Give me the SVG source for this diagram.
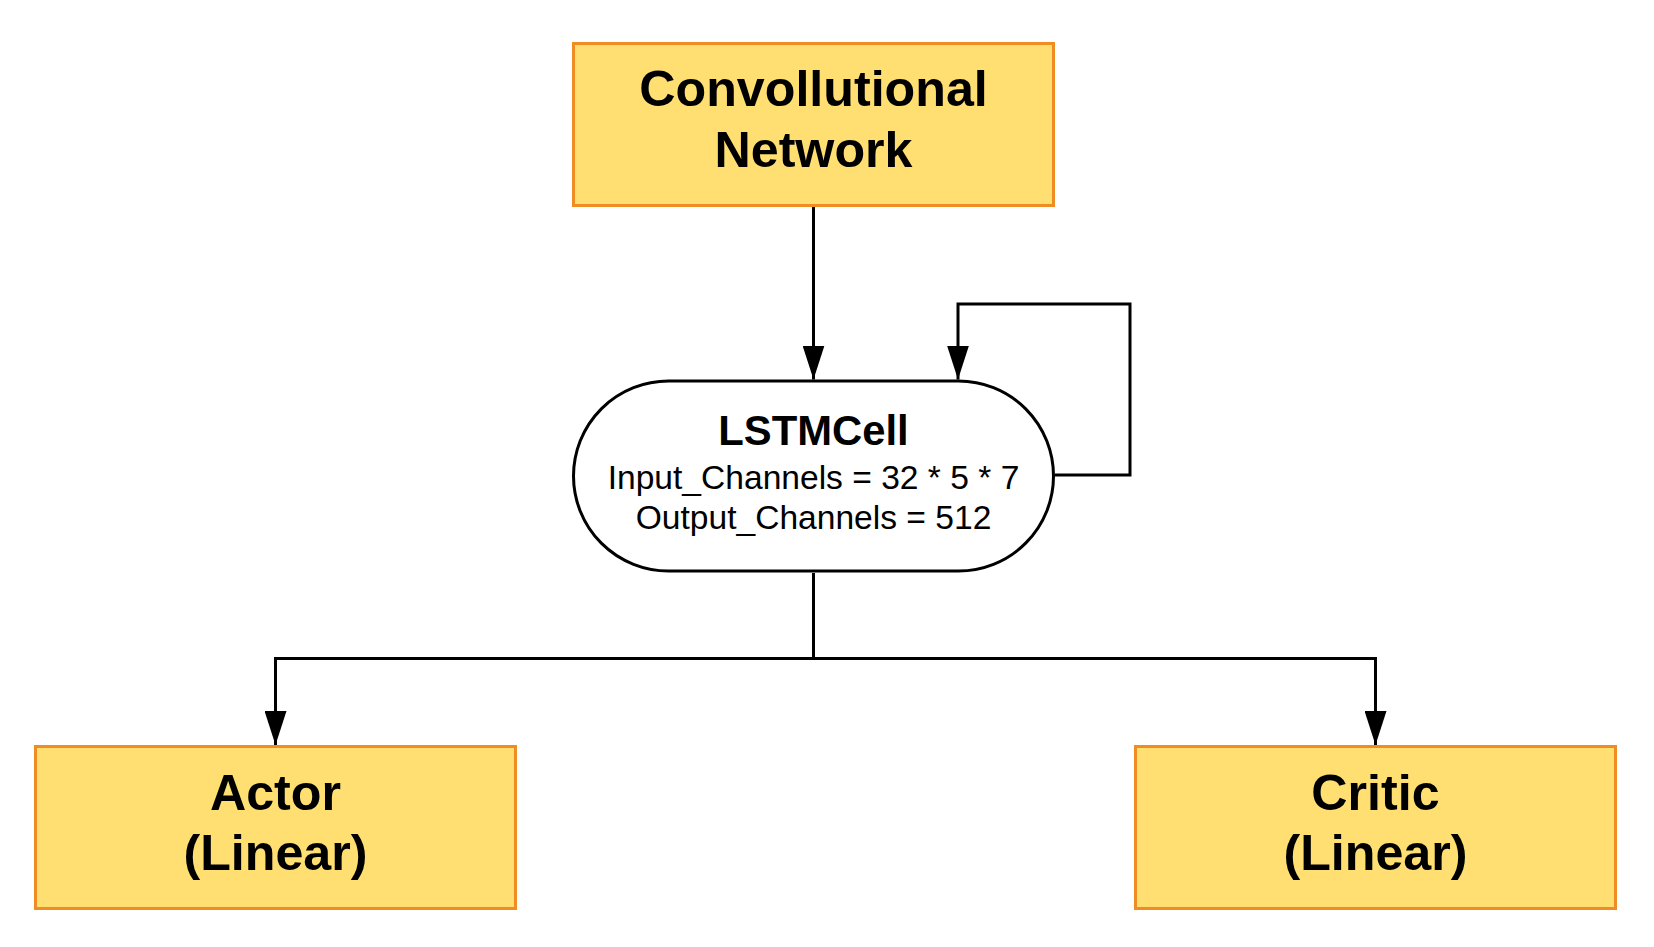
<svg xmlns="http://www.w3.org/2000/svg" width="1654" height="947" viewBox="0 0 1654 947">
  <style>
    .box { fill: #FFDF71; stroke: #EF8D22; stroke-width: 3; }
    .cell { fill: #FFFFFF; stroke: #000000; stroke-width: 3; }
    .big { font-family: "Liberation Sans", Arial, sans-serif; font-weight: bold; font-size: 50.2px; fill: #000; text-anchor: middle; }
    .title { font-family: "Liberation Sans", Arial, sans-serif; font-weight: bold; font-size: 41.8px; fill: #000; text-anchor: middle; }
    .sub { font-family: "Liberation Sans", Arial, sans-serif; font-size: 33.6px; fill: #000; text-anchor: middle; }
    .conn { fill: none; stroke: #000; stroke-width: 3; }
  </style>
  <defs>
    <marker id="arrow" markerUnits="userSpaceOnUse" markerWidth="34" markerHeight="22" refX="34" refY="11" orient="auto">
      <path d="M0,0 L34,11 L0,22 Z" fill="#000"/>
    </marker>
  </defs>
  <rect width="1654" height="947" fill="#FFFFFF"/>

  <g id="connectors">
    <path class="conn" d="M813.5,207 L813.5,379.5" marker-end="url(#arrow)"/>
    <path class="conn" d="M1055,475 L1130,475 L1130,304 L958,304 L958,379.5" marker-end="url(#arrow)"/>
    <path class="conn" d="M813.5,573 L813.5,658.5 L275.5,658.5 L275.5,745" marker-end="url(#arrow)"/>
    <path class="conn" d="M813.5,658.5 L1375.5,658.5 L1375.5,745" marker-end="url(#arrow)"/>
  </g>

  <g id="conv">
    <rect class="box" x="573.5" y="43.5" width="480" height="162"/>
    <text class="big" x="813.5" y="106">Convollutional</text>
    <text class="big" x="813.5" y="166.5">Network</text>
  </g>

  <g id="lstm">
    <rect class="cell" x="573.5" y="381" width="480" height="190" rx="95" ry="95"/>
    <text class="title" x="813.5" y="445">LSTMCell</text>
    <text class="sub" x="813.5" y="489">Input_Channels = 32 * 5 * 7</text>
    <text class="sub" x="813.5" y="529">Output_Channels = 512</text>
  </g>

  <g id="actor">
    <rect class="box" x="35.5" y="746.5" width="480" height="162"/>
    <text class="big" x="275.5" y="810">Actor</text>
    <text class="big" x="275.5" y="870">(Linear)</text>
  </g>

  <g id="critic">
    <rect class="box" x="1135.5" y="746.5" width="480" height="162"/>
    <text class="big" x="1375.5" y="810">Critic</text>
    <text class="big" x="1375.5" y="870">(Linear)</text>
  </g>
</svg>
